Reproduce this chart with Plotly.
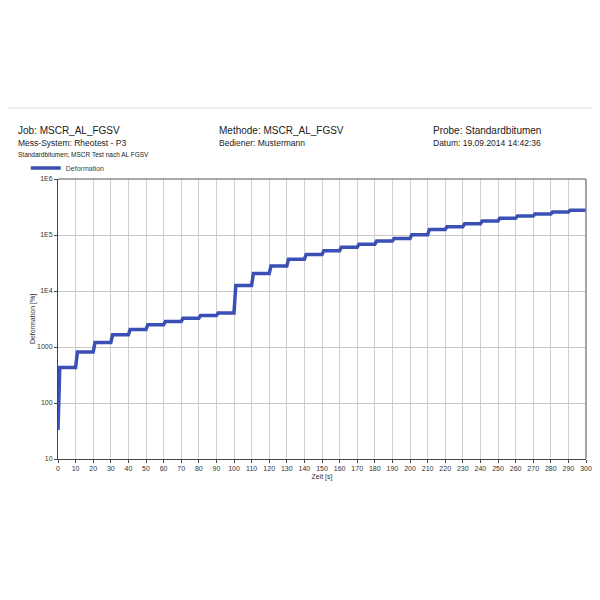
import plotly.graph_objects as go

# --- data ---
cycle_start = [0, 10, 20, 30, 40, 50, 60, 70, 80, 90,
               100, 110, 120, 130, 140, 150, 160, 170, 180, 190,
               200, 210, 220, 230, 240, 250, 260, 270, 280, 290]
plateau = [430, 810, 1200, 1650, 2050, 2500, 2850, 3250, 3650, 4050,
           12500, 20500, 28000, 37000, 45000, 52500, 60500, 68500, 78000, 87000,
           101000, 126000, 141000, 159000, 178000, 199000, 218000, 237000, 257000, 276000]
start_value = 33
creep_time = 1
cycle_len = 10

x_ticks = list(range(0, 301, 10))
y_tickvals = [10, 100, 1000, 1e4, 1e5, 1e6]
y_ticktext = ["10", "100", "1000", "1E4", "1E5", "1E6"]

# build step curve (creep 1 s, recovery 9 s)
t, d = [], []
prev = start_value
for ts, v in zip(cycle_start, plateau):
    t += [ts, ts + creep_time, ts + cycle_len]
    d += [prev, v, v]
    prev = v

FONT = "Liberation Sans, Arial, sans-serif"

fig = go.Figure()
fig.add_trace(go.Scatter(x=t, y=d, mode="lines", name="Deformation",
                         line=dict(color="#3b50b4", width=3.5)))

# page body has an 8px default margin -> compensate
fig.update_layout(
    width=592, height=592,
    margin=dict(l=50, r=14, t=171, b=141, autoexpand=False),
    paper_bgcolor="white", plot_bgcolor="white",
    font=dict(family=FONT, size=7, color="#333"),
    showlegend=True,
    legend=dict(x=-0.061, y=1.039, xanchor="left", yanchor="middle",
                font=dict(size=7, color="#444"), bgcolor="rgba(0,0,0,0)",
                itemwidth=30),
    xaxis=dict(range=[0, 300], tickvals=x_ticks, ticktext=[str(v) for v in x_ticks],
               showgrid=True, gridcolor="#d0d0d0", gridwidth=1,
               showline=True, linecolor="#444", linewidth=1, mirror=False,
               ticks="outside", ticklen=3, tickcolor="#444",
               tickfont=dict(size=7, color="#333"), zeroline=False, automargin=False,
               title=dict(text="Zeit [s]", font=dict(size=7, color="#333"), standoff=2)),
    yaxis=dict(type="log", range=[1, 6], tickvals=y_tickvals, ticktext=y_ticktext,
               showgrid=True, gridcolor="#c8c8c8", gridwidth=1,
               showline=True, linecolor="#444", linewidth=1,
               ticks="outside", ticklen=3, tickcolor="#444",
               tickfont=dict(size=7, color="#333"), zeroline=False, automargin=False,
               title=dict(text="Deformation [%]", font=dict(size=7, color="#333"), standoff=0)),
)

# top and right frame lines
fig.add_shape(type="line", xref="paper", yref="paper", x0=0, x1=1, y0=1, y1=1,
              line=dict(color="#555", width=1))
fig.add_shape(type="line", xref="paper", yref="paper", x0=1, x1=1, y0=0, y1=1,
              line=dict(color="#888", width=1.5))
# faint separator line at the top of the page
fig.add_shape(type="line", xref="paper", yref="paper", x0=-0.2, x1=1.1,
              y0=(459 - 108) / 280, y1=(459 - 108) / 280,
              line=dict(color="#e0e0e0", width=1))

def px_x(px):
    return (px - 58) / 528

def px_y(py):
    return (459 - py) / 280

header = [
    ("Job: MSCR_AL_FGSV", 16, 131, 10),
    ("Mess-System: Rheotest - P3", 16, 143, 8.5),
    ("Standardbitumen; MSCR Test nach AL FGSV", 16, 154, 6.5),
    ("Methode: MSCR_AL_FGSV", 217, 131, 10),
    ("Bediener: Mustermann", 217, 143, 8.5),
    ("Probe: Standardbitumen", 431, 131, 10),
    ("Datum: 19.09.2014 14:42:36", 431, 143, 8.5),
]
for txt, xx, yy, sz in header:
    fig.add_annotation(text=txt, xref="paper", yref="paper", x=px_x(xx), y=px_y(yy),
                       xanchor="left", yanchor="middle", showarrow=False,
                       font=dict(family=FONT, size=sz, color="#222"))

fig.write_html("out.html")
